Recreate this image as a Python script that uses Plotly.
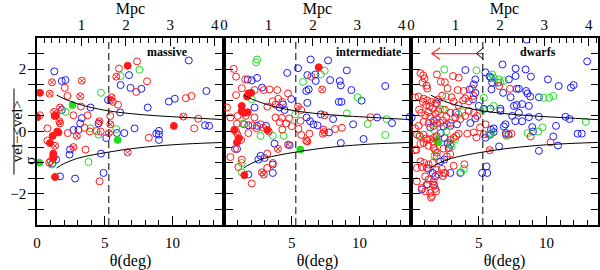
import plotly.graph_objects as go

# ---------------- data (theta in deg, normalized velocity) ----------------
panel_names = ["massive", "intermediate", "dwarfs"]

# panel 1: massive
p1_red_open = [(7.38,2.25),(6.05,2.02),(8.12,1.61),(2.05,1.40),(7.33,1.27),(2.25,1.14),(10.99,1.07),(11.4,1.14),
               (5.98,0.86),(3.24,0.80),(2.69,0.52),(3.73,0.52),(0.22,0.52),(5.41,0.50),(11.9,0.41),(11.6,0.10),
               (0.77,0.10),(3.5,0.12),(2.27,-0.05),(3.9,0.0),(4.4,0.02),(4.7,0.0),(0.77,-0.29),(3.58,-0.58),
               (8.25,-0.20),(0.9,-1.0),(4.62,-1.6),(5.6,0.95)]
p1_red_cross = [(5.85,1.76),(3.31,1.63),(1.11,1.58),(0.94,1.21),(3.19,1.13),(5.5,1.1),(5.45,1.0),(1.7,0.77),
                (1.26,0.63),(1.65,0.33),(1.7,0.26),(4.6,0.33),(5.41,0.23),(10.8,0.48),(2.94,-0.14),(5.3,-0.05),
                (1.33,-0.46),(2.69,-0.5),(6.69,-0.67),(1.0,-0.95)]
p1_red_fill = [(6.69,2.11),(0.22,1.24),(1.3,0.5),(1.4,0.52),(0.02,0.46),(10.1,0.18),(1.58,-0.03),(1.5,0.0),
               (1.16,-0.14),(0.96,-0.37),(1.2,-0.71),(1.2,-0.78),(1.22,-0.84),(1.33,-1.46)]
p1_blue_open = [(1.28,1.93),(1.83,1.62),(2.1,1.65),(11.2,2.28),(6.79,1.81),(6.17,1.49),(6.9,1.40),(7.7,1.37),
                (12.5,1.30),(5.24,1.01),(9.73,0.96),(10.17,1.05),(8.17,0.77),(3.95,0.77),(6.14,0.61),(1.83,0.69),
                (3.31,0.43),(3.19,0.26),(4.54,0.26),(12.4,0.2),(12.7,0.18),(7.2,0.1),(2.69,0.05),(3.06,0.05),
                (9.0,0.02),(5.11,-0.21),(5.9,-0.05),(6.44,-0.05),(8.8,-0.07),(9.0,-0.1),(9.0,-0.27),(2.44,-0.58),
                (2.4,-0.74),(4.72,-0.71),(1.41,-0.9),(4.91,-1.33),(1.7,-1.44),(2.81,-1.51),(1.14,-1.03)]
p1_green_open = [(7.56,1.98),(6.17,1.78),(4.72,1.24),(2.12,0.63),(3.95,0.1),(5.85,0.08),(1.09,-1.06),
                 (3.8,-0.98),(4.54,-0.1)]
p1_green_fill = [(2.62,0.85),(5.95,-0.27),(0.17,-1.0)]

# panel 2: intermediate
p2_red_open = [(0.72,2.01),(6.44,1.76),(0.89,1.76),(1.56,1.67),(1.31,1.39),(2.25,1.33),(2.93,1.33),(3.36,1.35),
               (3.93,1.33),(0.89,1.17),(4.72,1.22),(4.0,1.05),(3.6,0.97),(4.3,0.95),(3.2,0.8),(3.8,0.86),
               (0.22,0.77),(5.7,0.69),(0.47,0.45),(1.0,0.5),(1.6,0.5),(2.25,0.45),(3.8,0.45),(4.27,0.44),
               (4.8,0.42),(0.96,0.25),(1.5,0.23),(2.1,0.2),(2.7,0.23),(4.1,0.3),(4.6,0.26),(5.0,0.17),
               (5.65,0.34),(10.8,0.46),(2.4,0.1),(2.9,0.12),(4.3,0.06),(5.5,0.08),(7.35,0.06),(8.2,0.08),
               (8.7,0.12),(0.89,0.0),(1.01,-0.11),(0.81,-0.56),(0.47,-0.82),(1.8,-0.05),(1.26,-0.27),
               (1.31,-0.9),(1.06,-1.14),(2.05,-1.67),(3.19,-0.71),(3.6,-1.01),(3.19,-1.17),(5.7,-0.11),
               (6.07,-0.3),(6.3,-0.07),(7.3,-0.07),(3.3,0.0)]
p2_red_cross = [(7.24,1.35),(5.46,0.80),(7.43,0.52),(3.98,-0.56),(4.72,-0.42),(2.8,-1.31),(2.94,-1.38),
                (6.15,-0.32),(7.4,-0.02)]
p2_red_fill = [(6.99,2.06),(1.8,1.22),(2.0,1.24),(1.7,1.12),(1.31,0.82),(1.3,0.65),(1.75,0.62),(1.5,0.6),
               (0.76,0.05),(3.2,0.05),(0.96,-0.35),(1.5,-1.4),(1.1,-0.22)]
p2_blue_open = [(6.39,2.31),(7.68,2.28),(5.46,2.03),(9.06,1.96),(4.67,1.88),(6.15,1.81),(6.74,1.83),(1.75,1.67),
                (2.05,1.64),(2.44,1.72),(2.81,1.41),(7.83,1.65),(8.54,1.62),(8.62,1.48),(6.77,1.62),(6.07,1.30),
                (6.25,1.35),(9.4,1.33),(11.9,1.46),(4.96,1.04),(6.15,0.92),(8.47,0.95),(8.67,0.95),(10.15,0.99),
                (2.25,0.77),(4.1,0.77),(4.47,0.69),(4.35,0.87),(6.1,0.45),(6.35,0.33),(6.6,0.23),(6.9,0.2),
                (7.14,0.55),(8.05,0.40),(9.53,0.23),(11.3,0.45),(12.4,0.27),(13.7,0.47),(1.8,0.2),(2.44,0.18),
                (3.1,0.18),(2.7,-0.78),(2.99,-0.85),(2.54,-0.9),(3.73,-0.39),(4.84,-0.44),(3.6,-1.06),
                (3.6,-1.33),(1.8,-1.38),(7.75,-0.03),(8.62,-0.37),(10.3,-0.24),(0.96,-0.56)]
p2_green_open = [(2.44,2.31),(2.37,2.22),(7.43,1.95),(7.14,1.83),(5.83,1.59),(9.85,1.10),(2.05,1.04),(5.26,0.55),
                 (9.06,0.58),(10.6,0.24),(12.0,0.40),(1.38,0.25),(2.7,-0.14),(3.6,-0.14),(4.4,-0.14),
                 (1.31,-1.01),(1.31,-1.31),(11.9,-0.11)]
p2_green_fill = [(5.63,-0.58)]

# panel 3: dwarfs
p3_red_open = [(0.7,1.87),(0.9,1.8),(1.0,1.7),(0.85,1.57),(1.15,1.47),(1.2,1.38),(1.91,1.83),(3.1,1.78),
               (3.52,1.73),(2.2,1.6),(2.5,1.58),(0.3,1.09),(0.56,1.12),(0.93,1.05),(1.2,1.0),(1.5,0.95),
               (1.8,0.9),(2.0,1.03),(0.88,0.95),(1.12,0.85),(1.37,0.8),(1.62,0.73),(1.3,0.62),(1.05,0.52),
               (1.42,0.47),(1.8,0.57),(1.91,0.4),(0.93,0.31),(1.3,0.27),(1.67,0.18),(1.91,0.27),(2.7,1.38),
               (3.44,1.33),(3.89,1.30),(4.5,1.38),(4.0,1.06),(3.85,1.0),(3.15,0.96),(3.5,0.84),(4.26,0.97),
               (4.63,1.14),(2.5,0.7),(2.9,0.6),(3.27,0.45),(3.64,0.4),(4.0,0.5),(4.26,0.66),(4.63,0.6),
               (4.88,0.5),(5.5,0.23),(5.1,0.13),(6.5,1.46),(7.3,1.37),(2.6,0.47),(2.35,0.36),(2.15,0.28),
               (2.65,0.23),(2.9,0.27),(0.56,0.18),(0.3,0.1),(0.6,0.7),(0.75,0.6),(2.3,1.15),(2.0,0.65),
               (3.0,1.1),
               (0.43,-0.1),(0.65,-0.15),(0.93,-0.1),(1.12,-0.22),(1.2,-0.27),(1.42,-0.25),(1.6,-0.33),
               (1.7,-0.2),(1.9,-0.15),(0.3,-0.6),(0.4,-0.58),(0.7,-0.4),(0.93,-0.37),(1.3,-0.46),(1.67,-0.53),
               (1.79,-0.6),(1.91,-0.68),(1.9,-0.8),(0.7,-0.96),(0.98,-1.01),(1.3,-1.06),(1.6,-1.01),
               (0.43,-1.17),(0.8,-1.14),(1.17,-1.17),(1.9,-1.23),(2.28,-1.2),(2.53,-1.33),(2.03,-1.38),
               (1.05,-1.44),(1.3,-1.54),(1.67,-1.6),(1.23,-1.7),(0.43,-1.6),(0.8,-1.81),(1.05,-1.92),
               (1.42,-1.97),(1.54,-2.07),(1.48,-2.12),(1.79,-1.84),(1.86,-1.92),(1.72,-1.74),(2.4,-1.33),
               (2.35,-1.43),(3.15,-1.1),(3.94,-1.05),(2.9,-0.27),(3.15,-0.2),(3.35,-0.14),(3.52,-0.07),
               (4.15,-0.07),(4.63,-0.03),(4.83,-0.19),(5.37,-0.09),(7.0,-0.1),(7.4,-0.07),(8.83,-0.16),
               (10.3,-0.35),(2.4,-0.55),(2.65,-0.8),(2.9,-0.72)]
p3_red_cross = [(5.81,-0.6)]
p3_red_fill = []
p3_blue_open = [(8.53,2.95),(13.0,2.25),(4.01,1.97),(6.75,2.15),(7.72,2.02),(8.46,1.99),(8.85,1.76),(7.72,1.78),
                (5.8,1.77),(5.9,1.72),(10.1,1.67),(10.9,1.46),(5.49,1.9),(4.63,1.51),(4.75,1.67),(5.99,1.57),
                (6.41,1.57),(7.22,1.67),(7.8,1.37),(7.96,1.37),(11.8,1.41),(12.0,1.49),(8.5,1.3),(8.6,1.22),
                (8.8,1.12),(6.8,1.24),(5.94,1.35),(4.75,1.24),(4.33,1.35),(4.58,1.03),(7.35,1.1),(9.44,1.1),
                (7.8,0.85),(8.2,0.88),(7.6,0.82),(6.6,0.73),(6.6,0.66),(5.86,0.73),(5.37,0.73),(5.0,0.82),
                (8.7,0.82),(7.47,0.5),(7.96,0.6),(8.7,0.46),(9.44,0.47),(11.4,0.47),(11.7,0.40),(10.7,0.18),
                (7.7,0.33),(8.2,0.33),(8.95,0.14),(6.97,0.23),(6.85,0.16),(6.1,0.1),(5.9,0.06),(4.75,0.42),
                (4.38,0.27),(3.4,0.23),(2.9,0.18),(2.4,0.16),(0.05,0.45),(1.67,0.34),(1.42,0.13),(1.9,0.9),
                (3.3,0.6),
                (0.8,-1.86),(1.17,-1.7),(1.67,-1.7),(1.79,-1.44),(1.3,-1.2),(1.6,-1.33),(2.16,-0.96),
                (2.46,-0.9),(2.9,-1.33),(3.64,-1.33),(2.48,-0.21),(2.7,-0.37),(2.78,-0.53),(2.9,-0.42),
                (5.25,-1.33),(5.62,-1.33),(5.57,-1.12),(6.5,-0.48),(9.44,-0.62),(10.5,-0.16),(10.85,-0.45),
                (12.3,-0.07),(12.6,-0.07),(9.0,0.0),(6.1,-0.02),(7.0,-0.05),(7.2,-0.1),(5.5,-0.2),(5.85,-0.1),
                (2.2,-0.05)]
p3_green_open = [(2.46,1.99),(4.83,1.96),(5.99,1.83),(6.1,1.72),(6.48,1.67),(6.6,1.57),(6.85,1.62),(2.6,1.12),
                 (5.37,1.08),(9.8,1.08),(10.2,1.08),(10.5,1.14),(2.16,0.72),(2.36,0.70),(6.1,0.82),(9.7,0.13),
                 (12.9,0.31),(5.32,0.69),(3.5,0.55),(3.8,0.62),(0.6,-0.14),(1.73,-0.78),(2.9,-0.4),(3.0,-0.48),
                 (3.25,-0.25),(3.89,-1.2),(3.7,-1.31),(5.74,-0.1),(5.9,-0.05),(7.05,-0.14),(8.6,-0.05),
                 (9.4,0.0),(2.6,0.0),(1.7,0.05)]
p3_green_fill = [(2.0,-0.35),(1.9,-0.27)]

# envelope curves
curve_theta = [1.45, 2, 3, 4, 5.3, 7, 9, 11, 13.8]
curve_upper = [1.17, 1.05, 0.89, 0.77, 0.66, 0.57, 0.50, 0.45, 0.38]
curve_lower = [-1.17, -1.03, -0.86, -0.76, -0.66, -0.55, -0.46, -0.40, -0.35]

dash_theta = 5.3
deg_per_mpc = 3.28
theta_range = [0, 13.8]
v_range = [-3, 3]

# arrow in dwarfs panel
arrow_x = [5.37, 1.54, None, 2.15, 1.54, 2.15]
arrow_y = [2.5, 2.5, None, 2.69, 2.5, 2.31]
chevron_x = [5.37, 4.83, 5.37]
chevron_y = [2.69, 2.5, 2.31]

label_theta = [9.6, 10.7, 9.4]
label_v = 2.55

panels = [
    (p1_red_open, p1_red_cross, p1_red_fill, p1_blue_open, p1_green_open, p1_green_fill),
    (p2_red_open, p2_red_cross, p2_red_fill, p2_blue_open, p2_green_open, p2_green_fill),
    (p3_red_open, p3_red_cross, p3_red_fill, p3_blue_open, p3_green_open, p3_green_fill),
]

RED = "#ff1a1a"
BLUE = "#1a1aff"
GREEN = "#22dd22"
FONT = "Liberation Serif"

fig = go.Figure()

def add_pts(pts, color, symbol, xa, ya):
    if not pts:
        return
    fig.add_trace(go.Scatter(
        x=[p[0] for p in pts], y=[p[1] for p in pts], mode="markers",
        xaxis=xa, yaxis=ya, hoverinfo="skip", showlegend=False,
        marker=dict(symbol=symbol, size=7, color=color,
                    line=dict(color=color, width=1))))

for i, (ro, rc, rf, bo, go_, gf) in enumerate(panels):
    xa = "x" if i == 0 else f"x{i+1}"
    ya = "y" if i == 0 else f"y{i+1}"
    add_pts(bo, BLUE, "circle-open", xa, ya)
    add_pts(go_, GREEN, "circle-open", xa, ya)
    add_pts(gf, GREEN, "circle-x", xa, ya)
    add_pts(ro, RED, "circle-open", xa, ya)
    add_pts(rc, RED, "circle-x-open", xa, ya)
    add_pts(rf, RED, "circle", xa, ya)
    for cv in (curve_upper, curve_lower):
        fig.add_trace(go.Scatter(x=curve_theta, y=cv, mode="lines", xaxis=xa, yaxis=ya,
                                 line=dict(color="black", width=1, shape="spline"),
                                 hoverinfo="skip", showlegend=False))
    fig.add_shape(type="line", xref=xa, yref=f"{ya} domain", x0=dash_theta, x1=dash_theta,
                  y0=0, y1=1, line=dict(color="black", width=1, dash="7px,4px"))
    fig.add_annotation(x=label_theta[i], y=label_v, xref=xa, yref=ya, text=f"<b>{panel_names[i]}</b>",
                       showarrow=False, font=dict(family=FONT, size=12, color="black"))
    # invisible trace to register top axis
    fig.add_trace(go.Scatter(x=[0, 4], y=[0, 0], mode="markers", xaxis=f"x{i+4}", yaxis=ya,
                             marker=dict(opacity=0), hoverinfo="skip", showlegend=False))

fig.add_trace(go.Scatter(x=arrow_x, y=arrow_y, mode="lines", xaxis="x3", yaxis="y3",
                         line=dict(color="#ff3030", width=1.2), hoverinfo="skip", showlegend=False))
fig.add_trace(go.Scatter(x=chevron_x, y=chevron_y, mode="lines", xaxis="x3", yaxis="y3",
                         line=dict(color="black", width=1), hoverinfo="skip", showlegend=False))

domains = [[0, 1/3], [1/3, 2/3], [2/3, 1]]
ytickvals = [-2.5, -2, -1.5, -1, -0.5, 0, 0.5, 1, 1.5, 2, 2.5]
yticktext = ["", "\u22122", "", "", "", "0", "", "", "", "2", ""]
tickfont = dict(family=FONT, size=15, color="black")

for i in range(3):
    sfx = "" if i == 0 else str(i + 1)
    fig.layout[f"xaxis{sfx}"] = dict(
        domain=domains[i], range=theta_range, anchor=f"y{sfx}", automargin=False,
        showline=True, linecolor="black", linewidth=1.5, mirror=True,
        ticks="inside", ticklen=9, tickwidth=1, tickcolor="black", ticklabelstandoff=3,
        tickvals=[0, 5, 10], ticktext=["0" if i == 0 else "", "5", "10"],
        minor=dict(dtick=1, tick0=0, ticks="inside", ticklen=5, tickwidth=1, tickcolor="black"),
        showgrid=False, zeroline=False, tickfont=tickfont,
        title=dict(text="\u03b8(deg)", font=dict(family=FONT, size=16, color="black"), standoff=9))
    fig.layout[f"yaxis{sfx}"] = dict(
        domain=[0, 1], range=v_range, anchor=f"x{sfx}", automargin=False,
        showline=True, linecolor="black", linewidth=1.5, mirror="allticks",
        ticks="inside", ticklen=7, tickwidth=1, tickcolor="black", ticklabelstandoff=6,
        tickvals=ytickvals, ticktext=yticktext if i == 0 else [""] * len(ytickvals),
        showgrid=False, zeroline=False, tickfont=tickfont)
    fig.layout[f"xaxis{i+4}"] = dict(
        overlaying=f"x{sfx}", side="top", anchor=f"y{sfx}", automargin=False,
        range=[theta_range[0] / deg_per_mpc, theta_range[1] / deg_per_mpc],
        showline=False, ticks="inside", ticklen=8, tickwidth=1, tickcolor="black", ticklabelstandoff=4,
        tickvals=[0, 1, 2, 3, 4], ticktext=["" if i == 0 else "0", "1", "2", "3", "4"],
        minor=dict(dtick=1/6, tick0=0, ticks="inside", ticklen=5, tickwidth=1, tickcolor="black"),
        showgrid=False, zeroline=False, tickfont=tickfont,
        title=dict(text="Mpc", font=dict(family=FONT, size=16, color="black"), standoff=0))

# y-axis label as a fraction
fig.add_annotation(xref="paper", yref="paper", x=-0.054, y=0.5, text="vel\u2212&lt;vel&gt;",
                   textangle=-90, showarrow=False, font=dict(family=FONT, size=15, color="black"))
fig.add_shape(type="line", xref="paper", yref="paper", x0=-0.041, x1=-0.041, y0=0.27, y1=0.73,
              line=dict(color="black", width=1))
fig.add_annotation(xref="paper", yref="paper", x=-0.031, y=0.31, text="\u03c3",
                   textangle=-90, showarrow=False, font=dict(family=FONT, size=15, color="black"))

fig.update_layout(width=600, height=270, margin=dict(l=37, r=2, t=38, b=45),
                  paper_bgcolor="white", plot_bgcolor="white", showlegend=False)

fig.write_html("out.html", config={"displayModeBar": False},
               post_script="document.body.style.margin='0px';")
